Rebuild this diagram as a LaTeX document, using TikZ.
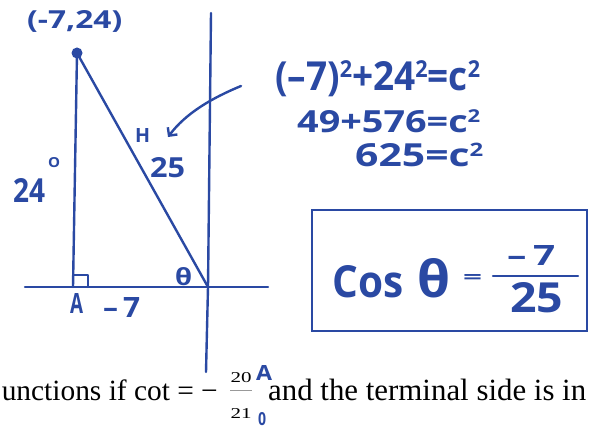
\documentclass[tikz,border=0pt]{standalone}
\usepackage{fontspec}
\usepackage{graphicx}
\setmainfont{Liberation Serif}
\newfontfamily\hand{Open Sans}
\usetikzlibrary{arrows.meta}
\definecolor{ink}{HTML}{2A49A3}
\newcommand{\hw}[3]{\resizebox{#1pt}{#2pt}{\hand\bfseries\fontsize{12}{12}\selectfont #3}}
\newcommand{\sq}{\raisebox{0.3em}{\fontsize{7}{7}\selectfont 2}}
\begin{document}
\begin{tikzpicture}[x=1pt,y=-1pt,
  pen/.style={draw=ink,line width=2.4pt,line cap=round,line join=round},
  hand/.style={text=ink,inner sep=0pt,anchor=base west},
  print/.style={text=black,inner sep=0pt,font=\fontsize{30}{30}\selectfont}]
\fill[white] (0,0) rectangle (597,428);
\useasboundingbox (0,0) rectangle (597,428);

% axes and triangle
\coordinate (O) at (208,287);
\coordinate (xl) at (25,287);
\coordinate (xr) at (268,287);
\coordinate (yt) at (211,13);
\coordinate (yb) at (206,372);
\coordinate (foot) at (73,287);
\node[circle,fill=ink,minimum size=11pt,inner sep=0pt] (P) at (77,53) {};
\draw[pen] (xl) -- (xr);
\draw[pen] (yt) -- (O) -- (yb);
\draw[pen] (P.center) -- (foot);
\draw[pen] (P.center) -- (O);
\draw[pen,line width=2pt] (73,275) -- (88,275) -- (88,287);

% arrow to H
\coordinate (arrS) at (241,86);
\coordinate (arrE) at (168,137);
\draw[pen,-{Straight Barb[length=6pt,width=12pt]}] (arrS) .. controls (212,98) and (186,113) .. (arrE);

% labels on the triangle
\node[hand] (pt) at (27,29) {\hw{95}{18}{(-7,24)}};
\node[hand] (oo) at (48,167) {\hw{12}{10}{O}};
\node[hand] (l24) at (13,202) {\hw{32}{24}{24}};
\node[hand] (H) at (135,142) {\hw{15}{14}{H}};
\node[hand] (l25) at (150,177) {\hw{35}{20}{25}};
\node[hand] (th) at (175,285) {\hw{17}{18}{θ}};
\node[hand] (AA) at (70,313) {\hw{13}{20}{A}};
\node[hand] (m7) at (103,317) {\hw{37}{20}{–\,7}};

% equations
\node[hand] (eq1) at (275,90) {\hw{205}{29}{(–7)\sq+24\sq=c\sq}};
\node[hand] (eq2) at (297,132) {\hw{183}{22}{49+576=c\sq}};
\node[hand] (eq3) at (355,166) {\hw{128}{23}{625=c\sq}};

% boxed answer
\node[draw=ink,line width=2.2pt,minimum width=275pt,minimum height=121pt,inner sep=0pt] (box) at (449.5,270.5) {};
\node[hand] (cos) at (332,297) {\hw{71}{32}{Cos}};
\node[hand] (cth) at (417,297) {\hw{33}{39}{θ}};
\node[hand] (ceq) at (463,283) {\hw{19}{9}{=}};
\node[hand] (num) at (507,265) {\hw{48}{20}{–\,7}};
\node[hand] (den) at (510,312) {\hw{53}{30}{25}};
\draw[pen] (493,276) -- (578,276);

% printed line
\node[print,anchor=base east] (p1) at (218,400) {\resizebox{216pt}{!}{unctions if cot = −}};
\node[inner sep=0pt] (n20) at (241,378) {\resizebox{21pt}{10pt}{20}};
\node[inner sep=0pt] (n21) at (241,413) {\resizebox{21pt}{10pt}{21}};
\draw[black!40,line width=0.6pt] (230,390) -- (252,390);
\node[print,anchor=base west] (p2) at (268,400) {\resizebox{318pt}{!}{and the terminal side is in}};
\node[hand] (sA) at (256,380) {\hw{16}{15}{A}};
\node[hand] (s0) at (258,425) {\hw{8}{13}{0}};
\end{tikzpicture}
\end{document}
